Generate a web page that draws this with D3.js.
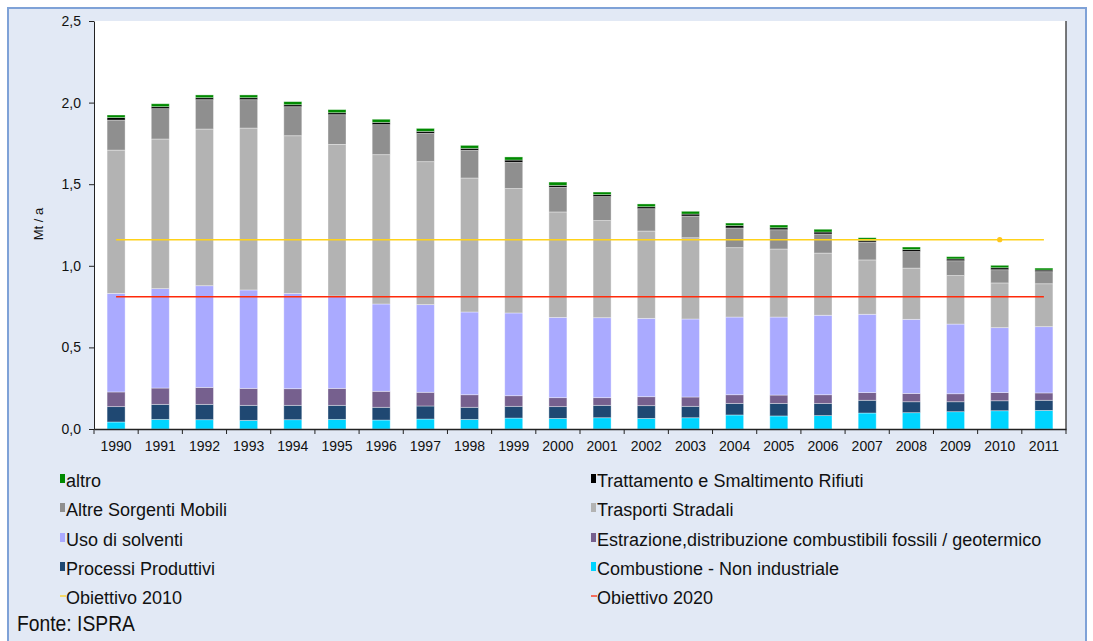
<!DOCTYPE html>
<html><head><meta charset="utf-8">
<script src="https://cdn.jsdelivr.net/npm/d3@7"></script>
<style>
html,body{margin:0;padding:0;background:#fff;}
svg{display:block;font-family:"Liberation Sans",Arial,sans-serif;}
</style></head>
<body>
<svg id="chart" width="1093" height="641"></svg>
<script>
const years = ["1990","1991","1992","1993","1994","1995","1996","1997","1998","1999","2000","2001","2002","2003","2004","2005","2006","2007","2008","2009","2010","2011"];
const combustione = [.043,.059,.057,.053,.057,.059,.055,.061,.059,.067,.065,.069,.065,.069,.086,.080,.082,.098,.100,.106,.112,.114];
const processi    = [.094,.092,.094,.092,.088,.086,.078,.080,.074,.072,.072,.076,.078,.070,.071,.077,.075,.078,.067,.061,.061,.062];
const estrazione  = [.090,.100,.104,.104,.102,.104,.098,.084,.077,.065,.055,.047,.055,.057,.053,.051,.053,.047,.051,.049,.050,.045];
const solventi    = [.604,.609,.623,.603,.584,.566,.535,.537,.507,.507,.492,.490,.480,.478,.476,.478,.487,.480,.454,.427,.398,.406];
const trasporti   = [.878,.917,.960,.992,.966,.929,.915,.876,.821,.762,.646,.595,.535,.498,.425,.417,.381,.333,.314,.297,.274,.263];
const altreMobili = [.184,.186,.180,.174,.178,.182,.184,.174,.170,.161,.151,.147,.137,.133,.121,.118,.117,.110,.101,.091,.081,.074];
const rifiuti     = [.015,.012,.012,.012,.012,.012,.014,.012,.012,.014,.012,.012,.012,.012,.014,.012,.012,.010,.012,.011,.012,.010];
const altro       = [.016,.018,.017,.017,.019,.019,.019,.018,.018,.019,.020,.016,.017,.017,.016,.017,.017,.016,.016,.014,.015,.012];
const obiettivo2010 = 1.16;
const obiettivo2020 = 0.81;
const yTicks = [0, 0.5, 1.0, 1.5, 2.0, 2.5];

const seriesDefs = [
  {key:"combustione", name:"Combustione - Non industriale", values:combustione, color:"#00D4FF"},
  {key:"processi", name:"Processi Produttivi", values:processi, color:"#1F4872"},
  {key:"estrazione", name:"Estrazione,distribuzione combustibili fossili / geotermico", values:estrazione, color:"#76608E"},
  {key:"solventi", name:"Uso di solventi", values:solventi, color:"#AAAAFF"},
  {key:"trasporti", name:"Trasporti Stradali", values:trasporti, color:"#B3B3B3"},
  {key:"altreMobili", name:"Altre Sorgenti Mobili", values:altreMobili, color:"#8F8F8F"},
  {key:"rifiuti", name:"Trattamento e Smaltimento Rifiuti", values:rifiuti, color:"#000000"},
  {key:"altro", name:"altro", values:altro, color:"#008A00"}
];

const table = years.map((y,i)=>{
  const o = {year:y};
  seriesDefs.forEach(s=>o[s.key]=s.values[i]);
  return o;
});

const svg = d3.select("#chart");
// frame
svg.append("rect").attr("x",8).attr("y",8).attr("width",1078).attr("height",660)
  .attr("fill","#E2E9F5").attr("stroke","#7FA2D7").attr("stroke-width",2);

const plot = {left:94, right:1066, top:21, bottom:429};
svg.append("rect").attr("x",plot.left).attr("y",plot.top)
  .attr("width",plot.right-plot.left).attr("height",plot.bottom-plot.top).attr("fill","#fff");

const xb = d3.scaleBand().domain(years).range([plot.left, plot.right]);
const y = d3.scaleLinear().domain([0,2.5]).range([plot.bottom, plot.top]);

const stack = d3.stack().keys(seriesDefs.map(s=>s.key));
const stacked = stack(table);

const g = svg.append("g");
stacked.forEach((layer,li)=>{
  g.append("g").attr("fill",seriesDefs[li].color)
    .selectAll("rect").data(layer).join("rect")
    .attr("x",d=>xb(d.data.year)+ (xb.bandwidth()-18)/2)
    .attr("width",18)
    .attr("y",d=>y(d[1]))
    .attr("height",d=>y(d[0])-y(d[1]))
    .attr("stroke","rgba(255,255,255,0.45)").attr("stroke-width",0.8);
});

// target lines
const x0 = xb(years[0]) + xb.bandwidth()/2;
const x1 = xb(years[years.length-1]) + xb.bandwidth()/2;
svg.append("line").attr("x1",x0).attr("x2",x1).attr("y1",y(obiettivo2010)).attr("y2",y(obiettivo2010))
  .attr("stroke","#FFD21A").attr("stroke-width",1.6);
svg.append("line").attr("x1",x0).attr("x2",x1).attr("y1",y(obiettivo2020)).attr("y2",y(obiettivo2020))
  .attr("stroke","#FF2A0A").attr("stroke-width",1.4);
svg.append("path").attr("d",d3.symbol(d3.symbolCircle,22)())
  .attr("transform",`translate(${xb("2010")+xb.bandwidth()/2},${y(obiettivo2010)})`)
  .attr("fill","#FFC61A");

// axes
const yAxis = d3.axisLeft(y).tickValues(yTicks).tickSize(5).tickSizeOuter(0)
  .tickFormat(d=>d3.format(".1f")(d).replace(".",","));
const ya = svg.append("g").attr("transform",`translate(${plot.left},0)`).call(yAxis);
ya.selectAll("text").attr("font-size",14).attr("fill","#111").attr("x",-13)
  .attr("font-family","'Liberation Sans',Arial,sans-serif");
ya.selectAll("line,path").attr("stroke","#222");

const xAxis = d3.axisBottom(xb).tickSize(0).tickSizeOuter(0);
const xa = svg.append("g").attr("transform",`translate(0,${plot.bottom})`).call(xAxis);
xa.select(".domain").attr("stroke","#222").attr("stroke-width",1.5);
xa.selectAll("text").attr("font-size",14).attr("fill","#111").attr("dy","1.35em")
  .attr("font-family","'Liberation Sans',Arial,sans-serif");
xa.selectAll(".bnd").data(years.concat(["end"])).join("line").attr("class","bnd")
  .attr("x1",d=>d==="end"?plot.right:xb(d)).attr("x2",d=>d==="end"?plot.right:xb(d))
  .attr("y1",0).attr("y2",5).attr("stroke","#222");
svg.append("line").attr("x1",plot.right).attr("x2",plot.right).attr("y1",plot.top).attr("y2",plot.bottom)
  .attr("stroke","#222").attr("stroke-width",1.2);

svg.append("text").attr("transform","translate(43,224) rotate(-90)")
  .attr("text-anchor","middle").attr("font-size",13).attr("fill","#111").text("Mt / a");

// legend
const legendItems = [
  {name:"altro", color:"#008A00", type:"rect"},
  {name:"Trattamento e Smaltimento Rifiuti", color:"#000000", type:"rect"},
  {name:"Altre Sorgenti Mobili", color:"#8F8F8F", type:"rect"},
  {name:"Trasporti Stradali", color:"#B3B3B3", type:"rect"},
  {name:"Uso di solventi", color:"#AAAAFF", type:"rect"},
  {name:"Estrazione,distribuzione combustibili fossili / geotermico", color:"#76608E", type:"rect"},
  {name:"Processi Produttivi", color:"#1F4872", type:"rect"},
  {name:"Combustione - Non industriale", color:"#00D4FF", type:"rect"},
  {name:"Obiettivo 2010", color:"#FFD21A", type:"line"},
  {name:"Obiettivo 2020", color:"#FF2A0A", type:"line"}
];
const colX = [60, 591];
const rowY = [481, 510, 540, 569, 598];
legendItems.forEach((it,i)=>{
  const cx = colX[i%2], cy = rowY[Math.floor(i/2)];
  const lg = svg.append("g").attr("transform",`translate(${cx},${cy})`);
  if(it.type==="rect"){
    lg.append("rect").attr("x",0).attr("y",-7).attr("width",5).attr("height",9).attr("fill",it.color);
  } else {
    lg.append("line").attr("x1",0).attr("x2",6).attr("y1",-2).attr("y2",-2).attr("stroke",it.color).attr("stroke-width",1.3);
  }
  lg.append("text").attr("x",6).attr("y",0).attr("dy","0.35em").attr("font-size",18).attr("fill","#111").text(it.name);
});

svg.append("text").attr("x",17).attr("y",631).attr("font-size",22)
  .attr("font-family","'Liberation Sans Narrow','Liberation Sans',Arial,sans-serif")
  .attr("textLength",118).attr("lengthAdjust","spacingAndGlyphs")
  .attr("fill","#111").text("Fonte: ISPRA");
</script>
</body></html>
